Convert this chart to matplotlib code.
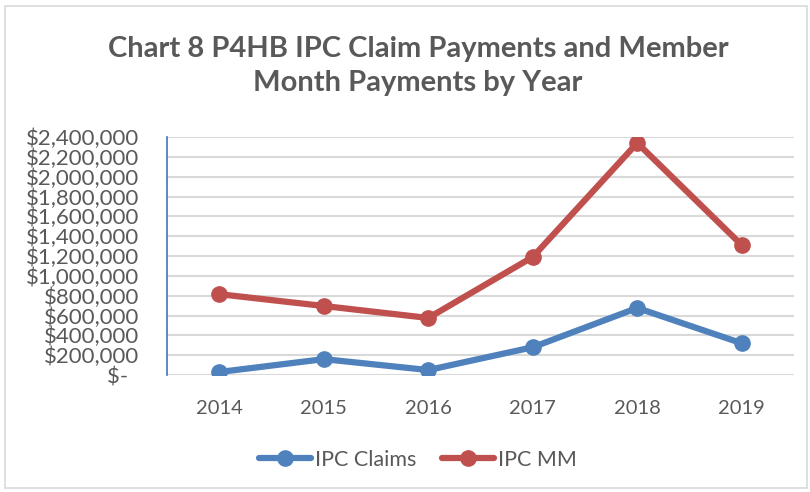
import matplotlib
matplotlib.use("Agg")
import matplotlib.pyplot as plt
from matplotlib.ticker import FuncFormatter, MultipleLocator
from matplotlib.patches import Rectangle

years = ["2014", "2015", "2016", "2017", "2018", "2019"]
ipc_claims = [30000, 160000, 50000, 280000, 676000, 320000]
ipc_mm = [815000, 696000, 575000, 1190000, 2340000, 1310000]

plt.rcParams['font.family'] = ['Lato', 'DejaVu Sans']
gray = '#595959'

fig = plt.figure(figsize=(8.1, 4.92), dpi=100)
ax = fig.add_axes([167/810, 1-375/492, (794-167)/810, (375-137)/492])

x = list(range(len(years)))
ax.plot(x, ipc_claims, color='#4F81BD', lw=4.5, marker='o', ms=11, label='IPC Claims', solid_capstyle='round')
ax.plot(x, ipc_mm, color='#C0504D', lw=4.5, marker='o', ms=11, label='IPC MM', solid_capstyle='round')

ax.set_xlim(-0.5, 5.5)
ax.set_ylim(0, 2400000)
ax.yaxis.set_major_locator(MultipleLocator(200000))
ax.yaxis.set_major_formatter(FuncFormatter(lambda v, p: '$-  ' if v == 0 else '${:,.0f}'.format(v)))
ax.set_xticks(x)
ax.set_xticklabels(years)
ax.grid(axis='y', color='#D9D9D9', lw=1.5)
ax.set_axisbelow(True)
for s in ['top', 'right', 'bottom']:
    ax.spines[s].set_visible(False)
ax.spines['left'].set_color('#4472C4')
ax.spines['left'].set_linewidth(1.2)
ax.tick_params(axis='both', length=0, labelcolor=gray)
ax.tick_params(axis='y', pad=20, labelsize=16)
ax.tick_params(axis='x', pad=18, labelsize=14.5)
ax.set_xlim(-0.5, 5.5)

fig.text(418/810, 1-66/492, "Chart 8 P4HB IPC Claim Payments and Member\nMonth Payments by Year",
         ha='center', va='center', fontsize=21, fontweight='bold', color=gray, linespacing=1.4)

leg = fig.legend(loc='center', bbox_to_anchor=(418/810, 1-460/492), ncol=2, frameon=False,
                 fontsize=15.5, handlelength=2.4, columnspacing=1.2, handletextpad=0.2)
for t in leg.get_texts():
    t.set_color(gray)

fig.patches.append(Rectangle((5/810, 1-488/492), 802/810, 482/492, transform=fig.transFigure,
                             fill=False, edgecolor='#D9D9D9', lw=1.2))

fig.savefig('out.png', dpi=100)
